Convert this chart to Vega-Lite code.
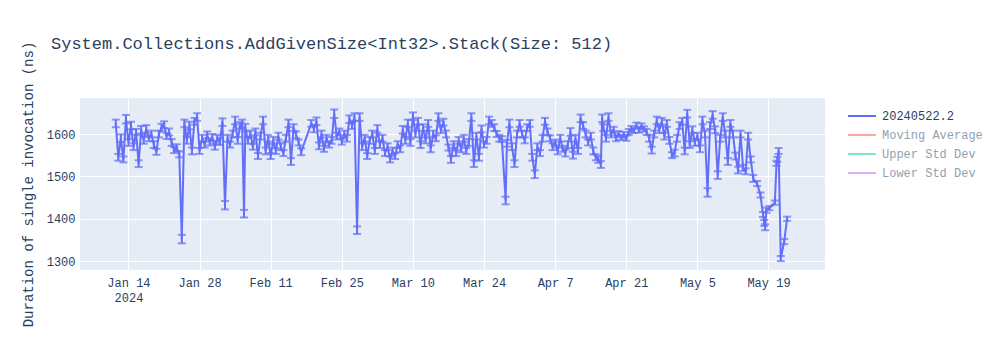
{
"$schema":"https://vega.github.io/schema/vega-lite/v6.json",
"width":745,"height":172,
"autosize":"none",
"padding":{"left":80,"top":98,"right":175,"bottom":80},
"background":"white",
"title":{"text":"System.Collections.AddGivenSize<Int32>.Stack(Size: 512)","anchor":"start","frame":"group","dx":-29,"dy":57,"offset":45,"font":"Liberation Mono","fontSize":17,"fontWeight":"normal","color":"#2a3f5f"},
"config":{"font":"Liberation Mono","view":{"fill":"#E5ECF6","stroke":null}},
"data":{"values":[
{"t":"2024-01-11T12:00:00","v":1625,"e":9},{"t":"2024-01-12T00:00:00","v":1545,"e":8},{"t":"2024-01-12T12:00:00","v":1590,"e":9},{"t":"2024-01-13T00:00:00","v":1540,"e":7},{"t":"2024-01-13T12:00:00","v":1635,"e":10},{"t":"2024-01-14T00:00:00","v":1580,"e":8},{"t":"2024-01-14T12:00:00","v":1620,"e":9},{"t":"2024-01-15T00:00:00","v":1570,"e":8},{"t":"2024-01-15T12:00:00","v":1605,"e":7},{"t":"2024-01-16T00:00:00","v":1530,"e":8},
{"t":"2024-01-16T12:00:00","v":1610,"e":9},{"t":"2024-01-17T00:00:00","v":1585,"e":8},{"t":"2024-01-17T12:00:00","v":1612,"e":9},{"t":"2024-01-18T00:00:00","v":1590,"e":7},{"t":"2024-01-18T12:00:00","v":1600,"e":8},{"t":"2024-01-19T00:00:00","v":1575,"e":8},{"t":"2024-01-19T12:00:00","v":1558,"e":7},{"t":"2024-01-20T00:00:00","v":1600,"e":8},{"t":"2024-01-20T12:00:00","v":1615,"e":9},{"t":"2024-01-21T00:00:00","v":1622,"e":8},
{"t":"2024-01-21T12:00:00","v":1595,"e":7},{"t":"2024-01-22T00:00:00","v":1605,"e":8},{"t":"2024-01-22T12:00:00","v":1580,"e":8},{"t":"2024-01-23T00:00:00","v":1562,"e":7},{"t":"2024-01-23T12:00:00","v":1568,"e":8},{"t":"2024-01-24T00:00:00","v":1552,"e":7},{"t":"2024-01-24T12:00:00","v":1352,"e":10},{"t":"2024-01-25T00:00:00","v":1625,"e":9},{"t":"2024-01-25T12:00:00","v":1585,"e":8},{"t":"2024-01-26T00:00:00","v":1620,"e":9},
{"t":"2024-01-26T12:00:00","v":1560,"e":8},{"t":"2024-01-27T00:00:00","v":1630,"e":8},{"t":"2024-01-27T12:00:00","v":1640,"e":9},{"t":"2024-01-28T00:00:00","v":1560,"e":7},{"t":"2024-01-28T12:00:00","v":1590,"e":8},{"t":"2024-01-29T00:00:00","v":1575,"e":7},{"t":"2024-01-29T12:00:00","v":1598,"e":8},{"t":"2024-01-30T00:00:00","v":1580,"e":7},{"t":"2024-01-30T12:00:00","v":1592,"e":8},{"t":"2024-01-31T00:00:00","v":1570,"e":7},
{"t":"2024-01-31T12:00:00","v":1590,"e":8},{"t":"2024-02-01T00:00:00","v":1582,"e":8},{"t":"2024-02-01T12:00:00","v":1628,"e":9},{"t":"2024-02-02T00:00:00","v":1432,"e":10},{"t":"2024-02-02T12:00:00","v":1590,"e":8},{"t":"2024-02-03T00:00:00","v":1575,"e":7},{"t":"2024-02-03T12:00:00","v":1600,"e":8},{"t":"2024-02-04T00:00:00","v":1632,"e":9},{"t":"2024-02-04T12:00:00","v":1585,"e":8},{"t":"2024-02-05T00:00:00","v":1620,"e":8},
{"t":"2024-02-05T09:00:00","v":1625,"e":9},{"t":"2024-02-05T18:00:00","v":1412,"e":9},{"t":"2024-02-06T00:00:00","v":1615,"e":9},{"t":"2024-02-06T12:00:00","v":1585,"e":8},{"t":"2024-02-07T00:00:00","v":1600,"e":8},{"t":"2024-02-07T12:00:00","v":1570,"e":7},{"t":"2024-02-08T00:00:00","v":1605,"e":8},{"t":"2024-02-08T12:00:00","v":1548,"e":7},{"t":"2024-02-09T00:00:00","v":1595,"e":8},{"t":"2024-02-09T12:00:00","v":1632,"e":9},
{"t":"2024-02-10T00:00:00","v":1560,"e":8},{"t":"2024-02-10T12:00:00","v":1590,"e":8},{"t":"2024-02-11T00:00:00","v":1548,"e":7},{"t":"2024-02-11T12:00:00","v":1585,"e":8},{"t":"2024-02-12T00:00:00","v":1560,"e":7},{"t":"2024-02-12T12:00:00","v":1595,"e":8},{"t":"2024-02-13T00:00:00","v":1570,"e":8},{"t":"2024-02-13T12:00:00","v":1555,"e":7},{"t":"2024-02-14T00:00:00","v":1590,"e":8},{"t":"2024-02-14T12:00:00","v":1625,"e":9},
{"t":"2024-02-15T00:00:00","v":1535,"e":8},{"t":"2024-02-15T12:00:00","v":1615,"e":8},{"t":"2024-02-16T00:00:00","v":1598,"e":8},{"t":"2024-02-16T12:00:00","v":1580,"e":7},{"t":"2024-02-17T00:00:00","v":1558,"e":8},{"t":"2024-02-19T00:00:00","v":1625,"e":8},{"t":"2024-02-19T12:00:00","v":1612,"e":8},{"t":"2024-02-20T00:00:00","v":1630,"e":9},{"t":"2024-02-20T12:00:00","v":1572,"e":8},{"t":"2024-02-21T00:00:00","v":1600,"e":8},
{"t":"2024-02-21T12:00:00","v":1565,"e":7},{"t":"2024-02-22T00:00:00","v":1590,"e":8},{"t":"2024-02-22T12:00:00","v":1575,"e":7},{"t":"2024-02-23T00:00:00","v":1585,"e":8},{"t":"2024-02-23T12:00:00","v":1648,"e":10},{"t":"2024-02-24T00:00:00","v":1595,"e":8},{"t":"2024-02-24T12:00:00","v":1605,"e":8},{"t":"2024-02-25T00:00:00","v":1582,"e":7},{"t":"2024-02-25T12:00:00","v":1600,"e":8},{"t":"2024-02-26T00:00:00","v":1590,"e":8},
{"t":"2024-02-26T12:00:00","v":1635,"e":9},{"t":"2024-02-27T00:00:00","v":1620,"e":8},{"t":"2024-02-27T12:00:00","v":1640,"e":9},{"t":"2024-02-28T00:00:00","v":1373,"e":9},{"t":"2024-02-28T12:00:00","v":1640,"e":9},{"t":"2024-02-29T00:00:00","v":1570,"e":8},{"t":"2024-02-29T12:00:00","v":1590,"e":8},{"t":"2024-03-01T00:00:00","v":1548,"e":7},{"t":"2024-03-01T12:00:00","v":1585,"e":8},{"t":"2024-03-02T00:00:00","v":1600,"e":8},
{"t":"2024-03-02T12:00:00","v":1560,"e":7},{"t":"2024-03-03T00:00:00","v":1612,"e":9},{"t":"2024-03-03T12:00:00","v":1575,"e":8},{"t":"2024-03-04T00:00:00","v":1590,"e":8},{"t":"2024-03-04T12:00:00","v":1555,"e":7},{"t":"2024-03-05T00:00:00","v":1570,"e":8},{"t":"2024-03-05T12:00:00","v":1540,"e":7},{"t":"2024-03-06T00:00:00","v":1560,"e":8},{"t":"2024-03-06T12:00:00","v":1548,"e":7},{"t":"2024-03-07T00:00:00","v":1575,"e":8},
{"t":"2024-03-07T12:00:00","v":1565,"e":8},{"t":"2024-03-08T00:00:00","v":1610,"e":9},{"t":"2024-03-08T12:00:00","v":1585,"e":8},{"t":"2024-03-09T00:00:00","v":1625,"e":9},{"t":"2024-03-09T12:00:00","v":1580,"e":8},{"t":"2024-03-10T00:00:00","v":1642,"e":9},{"t":"2024-03-10T12:00:00","v":1600,"e":8},{"t":"2024-03-11T00:00:00","v":1630,"e":8},{"t":"2024-03-11T12:00:00","v":1575,"e":8},{"t":"2024-03-12T00:00:00","v":1615,"e":8},
{"t":"2024-03-12T12:00:00","v":1585,"e":7},{"t":"2024-03-13T00:00:00","v":1625,"e":8},{"t":"2024-03-13T12:00:00","v":1565,"e":8},{"t":"2024-03-14T00:00:00","v":1600,"e":8},{"t":"2024-03-14T12:00:00","v":1590,"e":7},{"t":"2024-03-15T00:00:00","v":1640,"e":9},{"t":"2024-03-15T12:00:00","v":1610,"e":8},{"t":"2024-03-16T00:00:00","v":1628,"e":8},{"t":"2024-03-16T12:00:00","v":1600,"e":8},{"t":"2024-03-17T00:00:00","v":1568,"e":7},
{"t":"2024-03-17T12:00:00","v":1540,"e":8},{"t":"2024-03-18T00:00:00","v":1575,"e":8},{"t":"2024-03-18T12:00:00","v":1555,"e":7},{"t":"2024-03-19T00:00:00","v":1585,"e":8},{"t":"2024-03-19T12:00:00","v":1565,"e":8},{"t":"2024-03-20T00:00:00","v":1590,"e":8},{"t":"2024-03-20T12:00:00","v":1560,"e":7},{"t":"2024-03-21T00:00:00","v":1580,"e":8},{"t":"2024-03-21T12:00:00","v":1640,"e":9},{"t":"2024-03-22T00:00:00","v":1530,"e":8},
{"t":"2024-03-22T12:00:00","v":1595,"e":8},{"t":"2024-03-23T00:00:00","v":1545,"e":8},{"t":"2024-03-23T12:00:00","v":1612,"e":8},{"t":"2024-03-24T00:00:00","v":1575,"e":7},{"t":"2024-03-24T12:00:00","v":1585,"e":8},{"t":"2024-03-25T00:00:00","v":1632,"e":9},{"t":"2024-03-25T12:00:00","v":1625,"e":8},{"t":"2024-03-26T00:00:00","v":1615,"e":8},{"t":"2024-03-26T12:00:00","v":1600,"e":7},{"t":"2024-03-27T00:00:00","v":1590,"e":8},
{"t":"2024-03-27T12:00:00","v":1588,"e":7},{"t":"2024-03-28T06:00:00","v":1443,"e":9},{"t":"2024-03-28T12:00:00","v":1578,"e":8},{"t":"2024-03-29T00:00:00","v":1625,"e":9},{"t":"2024-03-29T12:00:00","v":1570,"e":8},{"t":"2024-03-30T00:00:00","v":1530,"e":8},{"t":"2024-03-30T12:00:00","v":1600,"e":8},{"t":"2024-03-31T00:00:00","v":1625,"e":8},{"t":"2024-03-31T12:00:00","v":1600,"e":8},{"t":"2024-04-01T00:00:00","v":1585,"e":7},
{"t":"2024-04-01T12:00:00","v":1615,"e":8},{"t":"2024-04-02T00:00:00","v":1625,"e":8},{"t":"2024-04-02T12:00:00","v":1545,"e":8},{"t":"2024-04-03T00:00:00","v":1505,"e":9},{"t":"2024-04-03T12:00:00","v":1570,"e":8},{"t":"2024-04-04T00:00:00","v":1555,"e":7},{"t":"2024-04-04T12:00:00","v":1590,"e":8},{"t":"2024-04-05T00:00:00","v":1630,"e":8},{"t":"2024-04-05T12:00:00","v":1605,"e":8},{"t":"2024-04-06T00:00:00","v":1590,"e":7},
{"t":"2024-04-06T12:00:00","v":1570,"e":8},{"t":"2024-04-07T00:00:00","v":1580,"e":7},{"t":"2024-04-07T12:00:00","v":1560,"e":8},{"t":"2024-04-08T00:00:00","v":1590,"e":8},{"t":"2024-04-08T12:00:00","v":1565,"e":7},{"t":"2024-04-09T00:00:00","v":1555,"e":8},{"t":"2024-04-09T12:00:00","v":1575,"e":8},{"t":"2024-04-10T00:00:00","v":1605,"e":9},{"t":"2024-04-10T12:00:00","v":1550,"e":8},{"t":"2024-04-11T00:00:00","v":1590,"e":8},
{"t":"2024-04-11T12:00:00","v":1560,"e":7},{"t":"2024-04-12T00:00:00","v":1637,"e":9},{"t":"2024-04-12T12:00:00","v":1620,"e":8},{"t":"2024-04-13T00:00:00","v":1600,"e":8},{"t":"2024-04-13T12:00:00","v":1580,"e":7},{"t":"2024-04-14T00:00:00","v":1595,"e":8},{"t":"2024-04-14T12:00:00","v":1560,"e":8},{"t":"2024-04-15T00:00:00","v":1545,"e":7},{"t":"2024-04-15T12:00:00","v":1540,"e":8},{"t":"2024-04-16T00:00:00","v":1528,"e":8},
{"t":"2024-04-16T06:00:00","v":1637,"e":9},{"t":"2024-04-16T12:00:00","v":1615,"e":8},{"t":"2024-04-17T00:00:00","v":1590,"e":8},{"t":"2024-04-17T12:00:00","v":1640,"e":9},{"t":"2024-04-18T00:00:00","v":1600,"e":8},{"t":"2024-04-18T12:00:00","v":1610,"e":7},{"t":"2024-04-19T00:00:00","v":1590,"e":7},{"t":"2024-04-19T12:00:00","v":1600,"e":7},{"t":"2024-04-20T00:00:00","v":1592,"e":6},{"t":"2024-04-20T12:00:00","v":1598,"e":7},
{"t":"2024-04-21T00:00:00","v":1590,"e":6},{"t":"2024-04-21T12:00:00","v":1605,"e":7},{"t":"2024-04-22T00:00:00","v":1612,"e":7},{"t":"2024-04-22T12:00:00","v":1608,"e":6},{"t":"2024-04-23T00:00:00","v":1620,"e":7},{"t":"2024-04-23T12:00:00","v":1610,"e":7},{"t":"2024-04-24T00:00:00","v":1618,"e":7},{"t":"2024-04-24T12:00:00","v":1612,"e":6},{"t":"2024-04-25T00:00:00","v":1605,"e":7},{"t":"2024-04-25T12:00:00","v":1590,"e":8},
{"t":"2024-04-26T00:00:00","v":1562,"e":8},{"t":"2024-04-26T12:00:00","v":1600,"e":8},{"t":"2024-04-27T00:00:00","v":1632,"e":9},{"t":"2024-04-27T12:00:00","v":1610,"e":8},{"t":"2024-04-28T00:00:00","v":1630,"e":8},{"t":"2024-04-28T12:00:00","v":1595,"e":8},{"t":"2024-04-29T00:00:00","v":1625,"e":8},{"t":"2024-04-29T12:00:00","v":1585,"e":8},{"t":"2024-04-30T00:00:00","v":1550,"e":7},{"t":"2024-04-30T12:00:00","v":1555,"e":8},
{"t":"2024-05-01T00:00:00","v":1590,"e":8},{"t":"2024-05-01T12:00:00","v":1620,"e":8},{"t":"2024-05-02T00:00:00","v":1630,"e":8},{"t":"2024-05-02T12:00:00","v":1560,"e":8},{"t":"2024-05-03T00:00:00","v":1648,"e":9},{"t":"2024-05-03T12:00:00","v":1575,"e":8},{"t":"2024-05-04T00:00:00","v":1610,"e":8},{"t":"2024-05-04T12:00:00","v":1580,"e":8},{"t":"2024-05-05T00:00:00","v":1595,"e":8},{"t":"2024-05-05T12:00:00","v":1565,"e":8},
{"t":"2024-05-06T00:00:00","v":1632,"e":9},{"t":"2024-05-06T12:00:00","v":1600,"e":8},{"t":"2024-05-07T00:00:00","v":1462,"e":10},{"t":"2024-05-07T12:00:00","v":1620,"e":8},{"t":"2024-05-08T00:00:00","v":1645,"e":9},{"t":"2024-05-08T12:00:00","v":1610,"e":8},{"t":"2024-05-09T00:00:00","v":1503,"e":9},{"t":"2024-05-09T12:00:00","v":1590,"e":8},{"t":"2024-05-10T00:00:00","v":1640,"e":9},{"t":"2024-05-10T12:00:00","v":1600,"e":8},
{"t":"2024-05-11T00:00:00","v":1535,"e":8},{"t":"2024-05-11T12:00:00","v":1625,"e":8},{"t":"2024-05-12T00:00:00","v":1600,"e":8},{"t":"2024-05-12T12:00:00","v":1548,"e":8},{"t":"2024-05-13T00:00:00","v":1515,"e":8},{"t":"2024-05-13T12:00:00","v":1600,"e":8},{"t":"2024-05-14T00:00:00","v":1520,"e":7},{"t":"2024-05-14T12:00:00","v":1512,"e":7},{"t":"2024-05-15T00:00:00","v":1595,"e":8},{"t":"2024-05-15T12:00:00","v":1540,"e":7},
{"t":"2024-05-16T00:00:00","v":1495,"e":8},{"t":"2024-05-16T18:00:00","v":1483,"e":6},{"t":"2024-05-17T10:00:00","v":1456,"e":6},{"t":"2024-05-17T22:00:00","v":1410,"e":6},{"t":"2024-05-18T04:00:00","v":1390,"e":7},{"t":"2024-05-18T08:00:00","v":1380,"e":7},{"t":"2024-05-18T14:00:00","v":1420,"e":6},{"t":"2024-05-19T04:00:00","v":1425,"e":5},{"t":"2024-05-20T06:00:00","v":1438,"e":5},{"t":"2024-05-20T14:00:00","v":1531,"e":6},
{"t":"2024-05-20T18:00:00","v":1540,"e":6},{"t":"2024-05-21T00:00:00","v":1560,"e":7},{"t":"2024-05-21T10:00:00","v":1306,"e":6},{"t":"2024-05-22T02:00:00","v":1346,"e":6},{"t":"2024-05-22T16:00:00","v":1400,"e":5}
]},
"encoding":{
"x":{"field":"t","type":"temporal","scale":{"domain":["2024-01-04T11:00:00","2024-05-30T03:00:00"]},
"axis":{"title":null,"values":[{"year":2024,"month":1,"date":14},{"year":2024,"month":1,"date":28},{"year":2024,"month":2,"date":11},{"year":2024,"month":2,"date":25},{"year":2024,"month":3,"date":10},{"year":2024,"month":3,"date":24},{"year":2024,"month":4,"date":7},{"year":2024,"month":4,"date":21},{"year":2024,"month":5,"date":5},{"year":2024,"month":5,"date":19}],
"labelExpr":"datum.index == 0 ? [timeFormat(datum.value, '%b %-d'), '2024'] : timeFormat(datum.value, '%b %-d')",
"grid":true,"gridColor":"white","gridWidth":1,"domain":false,"ticks":false,"labelFont":"Liberation Mono","labelFontSize":12,"labelColor":"#2a3f5f","labelPadding":7,"labelLineHeight":15,"labelOverlap":false,"labelFlush":false}},
"y":{"field":"v","type":"quantitative","scale":{"domain":[1279,1685],"nice":false,"zero":false},
"axis":{"title":"Duration of single invocation (ns)","format":"d","values":[1300,1400,1500,1600],"grid":true,"gridColor":"white","gridWidth":1,"domain":false,"ticks":false,"labelFont":"Liberation Mono","labelFontSize":12,"labelColor":"#2a3f5f","labelPadding":5,"titleFont":"Liberation Mono","titleFontSize":14,"titleFontWeight":"normal","titleColor":"#2a3f5f","titleX":-45,"titleY":86,"titleAngle":-90,"titleAnchor":"middle","titleAlign":"center"}}
},
"layer":[
{"mark":{"type":"line","strokeWidth":2,"color":"#636efa","clip":true},
"encoding":{
"color":{"datum":"20240522.2","type":"nominal","scale":{"domain":["20240522.2","Moving Average","Upper Std Dev","Lower Std Dev"],"range":["#636efa","#f7aa9d","#80e5ca","#d5b1fc"]},
"legend":{"title":null,"orient":"none","legendX":774,"legendY":10,"padding":0,"symbolType":"M-2,0H2","symbolSize":196,"symbolStrokeWidth":2,"symbolFillColor":"transparent","labelOffset":12,"rowPadding":5,"labelFont":"Liberation Mono","labelFontSize":12,"labelColor":"#2a3f5f",
"encode":{"labels":{"update":{"fill":{"signal":"datum.label === '20240522.2' ? '#2a3f5f' : '#949faf'"}}}}}}
}},
{"mark":{"type":"errorbar","ticks":{"size":8},"color":"#636efa","thickness":2},
"encoding":{"yError":{"field":"e"}}}
]
}
